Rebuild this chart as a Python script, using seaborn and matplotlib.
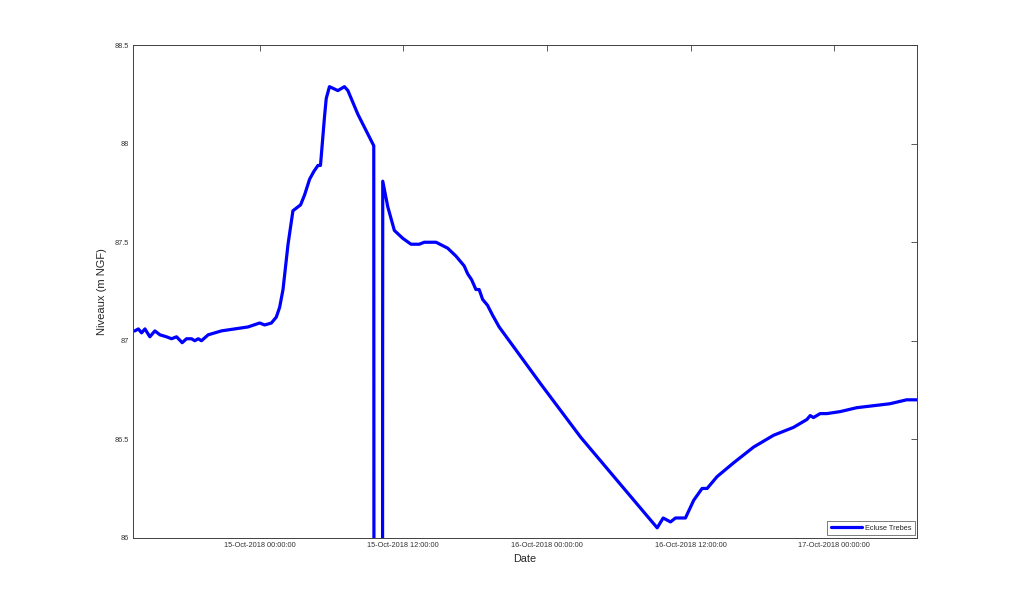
import matplotlib
matplotlib.use("Agg")
import matplotlib.pyplot as plt
import matplotlib.dates as mdates
import pandas as pd
import seaborn as sns

START = pd.Timestamp("2018-10-15 00:00:00")
LINE_COLOR = "#0000FF"
AXIS_COLOR = "#404040"

# hours relative to 15-Oct-2018 00:00
hours = [
    -10.60, -10.42, -10.13, -9.86, -9.58, -9.17, -8.75, -8.33, -7.78, -7.36,
    -6.94, -6.47, -6.11, -5.69, -5.42, -5.13, -4.86, -4.30, -3.19, -2.08,
    -0.97, 0.00, 0.42, 0.98, 1.39, 1.67, 1.95, 2.37, 2.78, 3.42,
    3.75, 4.17, 4.53, 4.87, 5.08, 5.42, 5.56, 5.83, 6.53, 7.08,
    7.37, 8.20, 9.53, 9.55, 10.26, 10.27, 10.28, 10.70, 11.25, 11.95,
    12.64, 13.33, 13.75, 14.73, 15.70, 16.39, 17.08, 17.37, 17.70, 18.06,
    18.33, 18.62, 19.03, 19.45, 20.00, 23.48, 26.81, 30.14, 32.64, 33.20,
    33.70, 34.31, 34.73, 35.56, 36.25, 36.95, 37.37, 38.20, 39.58, 41.25,
    42.92, 44.58, 45.70, 45.98, 46.25, 46.81, 47.37, 48.47, 49.87, 51.25,
    52.63, 54.03, 54.92,
]
levels = [
    87.05, 87.05, 87.06, 87.04, 87.06, 87.02, 87.05, 87.03, 87.02, 87.01,
    87.02, 86.99, 87.01, 87.01, 87.00, 87.01, 87.00, 87.03, 87.05, 87.06,
    87.07, 87.09, 87.08, 87.09, 87.12, 87.17, 87.26, 87.49, 87.66, 87.69,
    87.74, 87.82, 87.86, 87.89, 87.89, 88.14, 88.23, 88.29, 88.27, 88.29,
    88.27, 88.15, 87.99, 85.00, 85.00, 86.90, 87.81, 87.68, 87.56, 87.52,
    87.49, 87.49, 87.50, 87.50, 87.47, 87.43, 87.38, 87.34, 87.31, 87.26,
    87.26, 87.21, 87.18, 87.13, 87.07, 86.78, 86.51, 86.27, 86.09, 86.05,
    86.10, 86.08, 86.10, 86.10, 86.19, 86.25, 86.25, 86.31, 86.38, 86.46,
    86.52, 86.56, 86.60, 86.62, 86.61, 86.63, 86.63, 86.64, 86.66, 86.67,
    86.68, 86.70, 86.70,
]
y_ticks = [86, 86.5, 87, 87.5, 88, 88.5]
y_tick_labels = ["86", "86.5", "87", "87.5", "88", "88.5"]
x_tick_hours = [0, 12, 24, 36, 48]
series_name = "Ecluse Trebes"

frame = pd.DataFrame({
    "Date": START + pd.to_timedelta(hours, unit="h"),
    "level": levels,
})

sns.set_style("white")
plt.rcParams["font.family"] = ["Liberation Sans", "DejaVu Sans"]

fig = plt.figure(figsize=(10.14, 6.04), dpi=100)
ax = fig.add_axes([0.1309, 0.1098, 0.7737, 0.8152])

sns.lineplot(
    data=frame, x="Date", y="level", estimator=None, sort=False,
    color=LINE_COLOR, linewidth=2.3, label=series_name, ax=ax,
)

ax.set_xlim(frame["Date"].iloc[0], frame["Date"].iloc[-1])
ax.set_ylim(86, 88.5)
ax.set_yticks(y_ticks)
ax.set_yticklabels(y_tick_labels)
ax.set_xticks([START + pd.Timedelta(hours=h) for h in x_tick_hours])
ax.xaxis.set_major_formatter(mdates.DateFormatter("%d-%b-%Y %H:%M:%S"))

ax.tick_params(
    direction="in", length=4, width=0.6, colors=AXIS_COLOR,
    labelsize=5.3, labelcolor="#333333", pad=3,
    top=True, right=True,
)
for spine in ax.spines.values():
    spine.set_visible(True)
    spine.set_color(AXIS_COLOR)
    spine.set_linewidth(0.7)

ax.set_xlabel("Date", fontsize=7.8, labelpad=4)
ax.set_ylabel("Niveaux (m NGF)", fontsize=8, labelpad=5)

legend = ax.legend(
    loc="lower right", fontsize=5.3, frameon=True, fancybox=False,
    borderpad=0.5, handlelength=4.2, handletextpad=0.4,
    borderaxespad=0.3,
)
legend.get_frame().set_edgecolor(AXIS_COLOR)
legend.get_frame().set_linewidth(0.6)

fig.savefig("out.png", dpi=100, facecolor="white")
